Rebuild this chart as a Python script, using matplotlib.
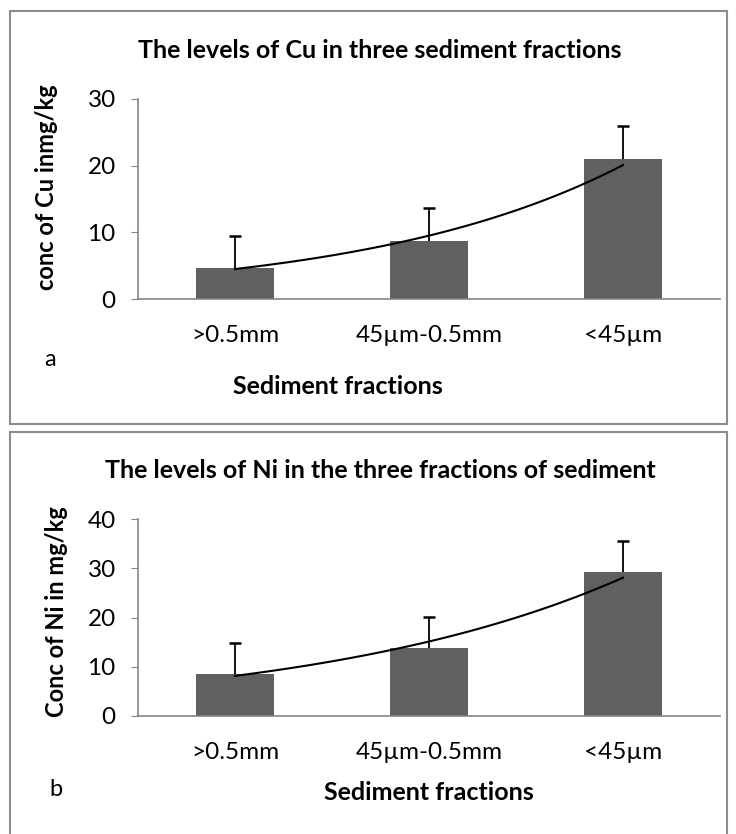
import matplotlib
matplotlib.use("Agg")
import matplotlib.pyplot as plt
import numpy as np
from matplotlib.patches import Rectangle

plt.rcParams['font.family'] = ['Lato', 'DejaVu Sans']

# data
fractions = ['>0.5mm', '45µm-0.5mm', '<45µm']
cu_mean = [4.7, 8.7, 21.0]
cu_err = [4.8, 4.9, 4.9]
ni_mean = [8.5, 13.9, 29.3]
ni_err = [6.3, 6.3, 6.3]

W, H = 736, 834
fig = plt.figure(figsize=(W / 100, H / 100), dpi=100)

def px_axes(left, top, right, bottom):
    return fig.add_axes([left / W, 1 - bottom / H, (right - left) / W, (bottom - top) / H])

# panel frames
for y0, y1 in [(11, 424), (432, 840)]:
    fig.patches.append(Rectangle((10 / W, 1 - y1 / H), 717 / W, (y1 - y0) / H,
                                 transform=fig.transFigure, fill=False,
                                 edgecolor='#8c8c8c', linewidth=1.5))

def panel(ax, vals, errs, ymax, step):
    x = np.arange(1, len(vals) + 1)
    ax.bar(x, vals, width=0.4, color='#606060', zorder=2)
    eb = ax.errorbar(x, vals, yerr=[np.zeros(len(errs)), errs], fmt='none',
                     ecolor='black', elinewidth=1.3, capsize=4.5, capthick=1.8, zorder=3)
    eb[1][0].set_visible(False)  # no cap at the bar top
    # exponential trendline (least squares on log values, like Excel)
    b, a = np.polyfit(x, np.log(vals), 1)
    xs = np.linspace(1, 3, 100)
    ax.plot(xs, np.exp(a + b * xs), color='black', linewidth=1.5, zorder=4)
    ax.set_xlim(0.5, 3.5)
    ax.set_ylim(0, ymax)
    ax.set_yticks(np.arange(0, ymax + 1, step))
    ax.set_xticks(x)
    ax.set_xticklabels(fractions)
    for s in ['top', 'right']:
        ax.spines[s].set_visible(False)
    for s in ['left', 'bottom']:
        ax.spines[s].set_color('#868686')
        ax.spines[s].set_linewidth(1.2)
    ax.tick_params(axis='y', length=5, color='#868686', labelsize=17.5, pad=11)
    ax.tick_params(axis='x', length=0, labelsize=17.5, pad=19)

ax1 = px_axes(138, 99, 720, 299)
panel(ax1, cu_mean, cu_err, 30, 10)
fig.text(380 / W, 1 - 50 / H, 'The levels of Cu in three sediment fractions',
         ha='center', va='center', fontsize=18, fontweight='bold')
fig.text(47 / W, 1 - 187 / H, 'conc of Cu inmg/kg', rotation=90,
         ha='center', va='center', fontsize=17, fontweight='bold')
fig.text(338 / W, 1 - 387 / H, 'Sediment fractions',
         ha='center', va='center', fontsize=18, fontweight='bold')
fig.text(50 / W, 1 - 360 / H, 'a', ha='center', va='center', fontsize=17)

ax2 = px_axes(138, 519, 720, 716)
panel(ax2, ni_mean, ni_err, 40, 10)
fig.text(380 / W, 1 - 470 / H, 'The levels of Ni in the three fractions of sediment',
         ha='center', va='center', fontsize=18, fontweight='bold')
fig.text(57 / W, 1 - 612 / H, 'Conc of Ni in mg/kg', rotation=90,
         ha='center', va='center', fontsize=17, fontweight='bold')
fig.text(429 / W, 1 - 792 / H, 'Sediment fractions',
         ha='center', va='center', fontsize=18, fontweight='bold')
fig.text(56 / W, 1 - 790 / H, 'b', ha='center', va='center', fontsize=17)

fig.savefig('out.png', dpi=100)
